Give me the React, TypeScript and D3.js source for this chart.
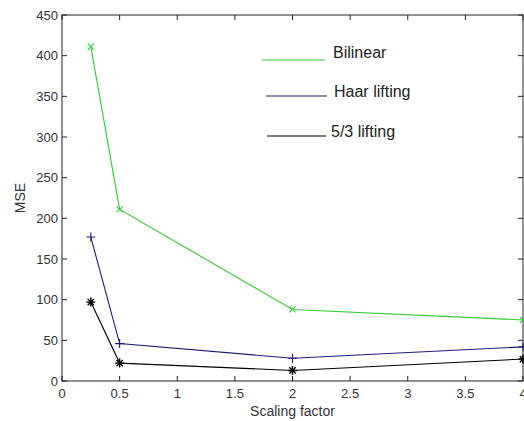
import React, { useEffect, useRef } from 'react';
import * as d3 from 'd3';

// Scaling factors sampled in the experiment
const scales = [0.25, 0.5, 2, 4];
// MSE per method
const bilinear = [411, 211, 88, 75];
const haar = [177, 46, 28, 42];
const fiveThree = [97, 22, 13, 27];

const xTicks = [0, 0.5, 1, 1.5, 2, 2.5, 3, 3.5, 4];
const yTicks = [0, 50, 100, 150, 200, 250, 300, 350, 400, 450];

const series = [
  { name: 'Bilinear', values: bilinear, color: '#33cc33', marker: 'x' },
  { name: 'Haar lifting', values: haar, color: '#1c1c78', marker: '+' },
  { name: '5/3 lifting', values: fiveThree, color: '#000000', marker: '*' },
];

const App = () => {
  const ref = useRef(null);

  useEffect(() => {
    document.body.style.margin = '0';
    const width = 524,
      height = 421;
    const margin = { top: 15, right: 1, bottom: 40, left: 62 };

    const root = d3.select(ref.current);
    root.selectAll('*').remove();

    const svg = root
      .append('svg')
      .attr('width', width)
      .attr('height', height)
      .style('display', 'block')
      .style('background', '#fff')
      .style('font-family', '"Liberation Sans", Arial, sans-serif');

    const x = d3.scaleLinear().domain([0, 4]).range([margin.left, width - margin.right]);
    const y = d3.scaleLinear().domain([0, 450]).range([height - margin.bottom, margin.top]);

    const axisColor = '#222';
    const textColor = '#333';
    const tick = 5;

    // frame
    svg
      .append('rect')
      .attr('x', x(0))
      .attr('y', y(450))
      .attr('width', x(4) - x(0))
      .attr('height', y(0) - y(450))
      .attr('fill', 'none')
      .attr('stroke', axisColor)
      .attr('stroke-width', 1);

    // x ticks (inside, bottom and top)
    const xt = svg.append('g');
    xTicks.forEach((t) => {
      xt.append('line')
        .attr('x1', x(t))
        .attr('x2', x(t))
        .attr('y1', y(0))
        .attr('y2', y(0) - tick)
        .attr('stroke', axisColor);
      xt.append('line')
        .attr('x1', x(t))
        .attr('x2', x(t))
        .attr('y1', y(450))
        .attr('y2', y(450) + tick)
        .attr('stroke', axisColor);
      xt.append('text')
        .attr('x', x(t))
        .attr('y', y(0) + 17)
        .attr('text-anchor', 'middle')
        .style('font-size', '13px')
        .style('fill', textColor)
        .text(d3.format('~g')(t));
    });

    // y ticks (inside, left and right)
    const yt = svg.append('g');
    yTicks.forEach((t) => {
      yt.append('line')
        .attr('x1', x(0))
        .attr('x2', x(0) + tick)
        .attr('y1', y(t))
        .attr('y2', y(t))
        .attr('stroke', axisColor);
      yt.append('line')
        .attr('x1', x(4))
        .attr('x2', x(4) - tick)
        .attr('y1', y(t))
        .attr('y2', y(t))
        .attr('stroke', axisColor);
      yt.append('text')
        .attr('x', x(0) - 4)
        .attr('y', y(t))
        .attr('dy', '0.35em')
        .attr('text-anchor', 'end')
        .style('font-size', '13px')
        .style('fill', textColor)
        .text(t);
    });

    // axis titles
    svg
      .append('text')
      .attr('x', x(2))
      .attr('y', 416)
      .attr('text-anchor', 'middle')
      .style('font-size', '14px')
      .style('fill', textColor)
      .text('Scaling factor');
    svg
      .append('text')
      .attr('transform', `translate(25,198) rotate(-90)`)
      .attr('text-anchor', 'middle')
      .style('font-size', '14px')
      .style('fill', textColor)
      .text('MSE');

    const line = d3
      .line<number>()
      .x((_, i) => x(scales[i]))
      .y((d) => y(d));

    const markerPath = (m: string, s: number) => {
      if (m === 'x') return `M${-s},${-s}L${s},${s}M${-s},${s}L${s},${-s}`;
      if (m === '+') return `M${-s},0L${s},0M0,${-s}L0,${s}`;
      return `M${-s},0L${s},0M0,${-s}L0,${s}M${-s * 0.7},${-s * 0.7}L${s * 0.7},${s * 0.7}M${-s * 0.7},${s * 0.7}L${s * 0.7},${-s * 0.7}`;
    };

    series.forEach((s) => {
      svg
        .append('path')
        .datum(s.values)
        .attr('fill', 'none')
        .attr('stroke', s.color)
        .attr('stroke-width', 1.1)
        .attr('d', line);
      svg
        .append('g')
        .selectAll('path')
        .data(s.values)
        .enter()
        .append('path')
        .attr('transform', (d, i) => `translate(${x(scales[i])},${y(d)})`)
        .attr('d', markerPath(s.marker, s.marker === 'x' ? 3 : 4.5))
        .attr('stroke', s.color)
        .attr('stroke-width', s.marker === '*' ? 1.4 : 1.1)
        .attr('fill', 'none');
    });

    // legend
    const legendRows = [
      { x1: 262, x2: 325, y: 60, tx: 333, ty: 58 },
      { x1: 266, x2: 327, y: 96, tx: 334, ty: 97 },
      { x1: 267, x2: 326, y: 136, tx: 331, ty: 137 },
    ];
    series.forEach((s, i) => {
      const r = legendRows[i];
      svg
        .append('line')
        .attr('x1', r.x1)
        .attr('x2', r.x2)
        .attr('y1', r.y)
        .attr('y2', r.y)
        .attr('stroke', s.color)
        .attr('stroke-width', 1.1);
      svg
        .append('text')
        .attr('x', r.tx)
        .attr('y', r.ty)
        .style('font-size', '16px')
        .style('fill', '#222')
        .text(s.name);
    });
  }, []);

  return <div ref={ref}></div>;
};

export default App;
